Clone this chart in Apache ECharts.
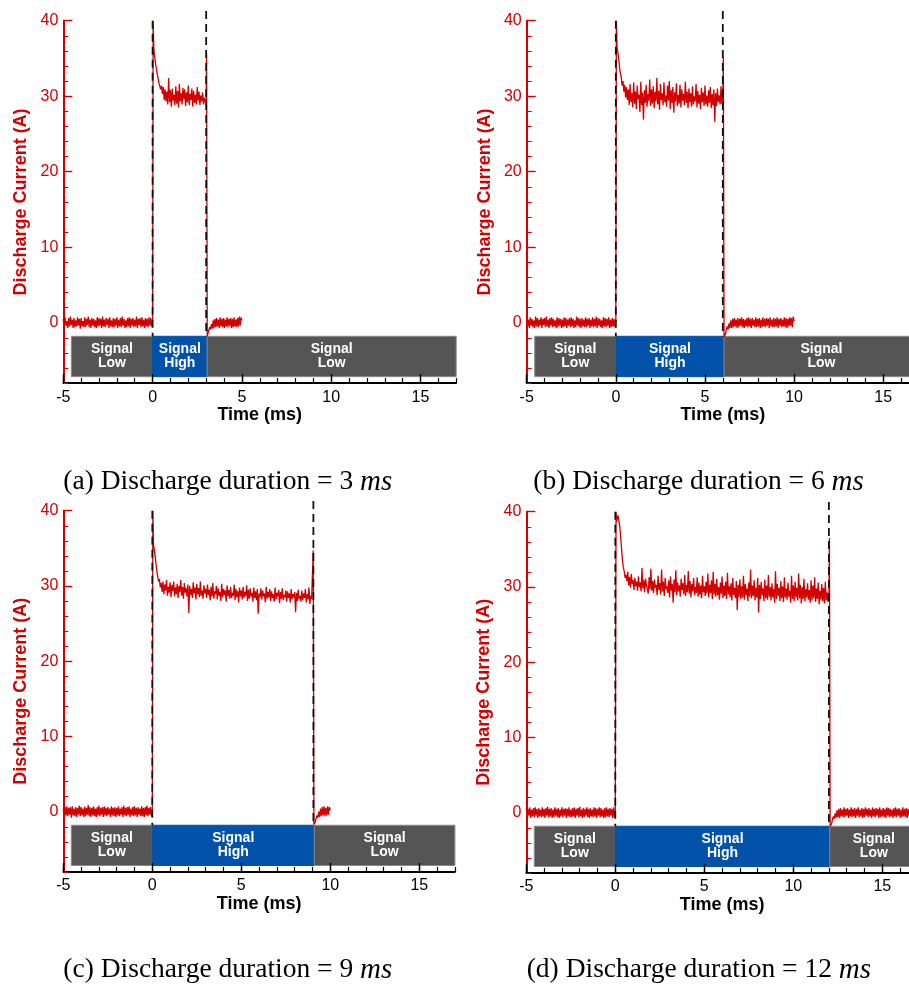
<!DOCTYPE html>
<html>
<head>
<meta charset="utf-8">
<script src="https://cdn.jsdelivr.net/npm/echarts@6/dist/echarts.min.js"></script>
<style>html,body{margin:0;padding:0;background:#fff}#c{width:909px;height:984px}</style>
</head>
<body>
<div id="c"></div>
<script>
// ---------- DATA ----------
const xTickLabels = [-5, 0, 5, 10, 15];
const yTickLabels = [0, 10, 20, 30, 40];
const captions = ['(a) Discharge duration = 3 ', '(b) Discharge duration = 6 ', '(c) Discharge duration = 9 ', '(d) Discharge duration = 12 '];

// baseline before the pulse, sampled every 0.05 ms, t = -5 .. -0.05 ms
const aPre = [0.5,-0.6,0.7,-0.4,0.2,-0.7,0.6,-0.5,0.8,-0.3,
0.4,-0.7,0.6,-0.6,0.3,-0.5,0.7,-0.4,0.5,-0.8,
0.6,-0.5,0.2,-0.6,0.7,-0.6,0.5,-0.3,0.8,-0.6,
0.4,-0.7,0.6,-0.4,0.5,-0.6,0.3,-0.7,0.7,-0.5,
0.6,-0.4,0.5,-0.7,0.8,-0.5,0.4,-0.6,0.6,-0.3,
0.5,-0.7,0.7,-0.5,0.3,-0.6,0.6,-0.6,0.5,-0.4,
0.7,-0.7,0.4,-0.5,0.6,-0.6,0.8,-0.4,0.5,-0.7,
0.3,-0.6,0.6,-0.5,0.7,-0.7,0.5,-0.4,0.6,-0.6,
0.4,-0.5,0.8,-0.7,0.5,-0.3,0.6,-0.6,0.7,-0.5,
0.4,-0.7,0.6,-0.5,0.5,-0.6,0.7,-0.4,0.6,-0.5];
const bPre = [0.6,-0.5,0.4,-0.7,0.7,-0.4,0.5,-0.6,0.3,-0.7,
0.8,-0.5,0.6,-0.6,0.4,-0.4,0.7,-0.7,0.5,-0.3,
0.6,-0.6,0.8,-0.5,0.4,-0.7,0.6,-0.4,0.7,-0.6,
0.5,-0.5,0.3,-0.7,0.7,-0.6,0.6,-0.4,0.5,-0.7,
0.4,-0.6,0.7,-0.5,0.6,-0.7,0.4,-0.4,0.6,-0.6,
0.7,-0.5,0.5,-0.7,0.3,-0.6,0.8,-0.4,0.6,-0.6,
0.5,-0.7,0.6,-0.5,0.4,-0.6,0.7,-0.6,0.5,-0.4,
0.6,-0.7,0.4,-0.5,0.7,-0.6,0.5,-0.5,0.8,-0.7,
0.6,-0.4,0.5,-0.6,0.3,-0.7,0.7,-0.5,0.6,-0.6,
0.5,-0.4,0.7,-0.7,0.4,-0.6,0.6,-0.5,0.5,-0.6];
const cPre = [0.4,-0.7,0.6,-0.5,0.7,-0.6,0.5,-0.4,0.6,-0.8,
0.7,-0.5,0.4,-0.6,0.6,-0.7,0.5,-0.4,0.8,-0.6,
0.6,-0.5,0.4,-0.7,0.7,-0.6,0.5,-0.4,0.9,-0.6,
0.6,-0.7,0.5,-0.5,0.7,-0.6,0.4,-0.7,0.6,-0.5,
0.8,-0.6,0.5,-0.4,0.6,-0.7,0.7,-0.5,0.5,-0.6,
0.6,-0.4,0.4,-0.7,0.7,-0.5,0.5,-0.6,0.6,-0.7,
0.5,-0.5,0.7,-0.6,0.4,-0.4,0.6,-0.7,0.8,-0.5,
0.5,-0.6,0.6,-0.4,0.7,-0.7,0.4,-0.5,0.6,-0.6,
0.7,-0.5,0.5,-0.7,0.6,-0.4,0.4,-0.6,0.7,-0.6,
0.5,-0.7,0.6,-0.5,0.8,-0.6,0.5,-0.4,0.6,-0.6];
const dPre = [0.6,-0.6,0.5,-0.4,0.7,-0.7,0.4,-0.5,0.6,-0.6,
0.7,-0.4,0.5,-0.7,0.6,-0.5,0.4,-0.6,0.7,-0.5,
0.5,-0.7,0.6,-0.4,0.8,-0.6,0.5,-0.5,0.6,-0.7,
0.4,-0.6,0.7,-0.4,0.5,-0.6,0.6,-0.7,0.4,-0.5,
0.7,-0.6,0.5,-0.4,0.6,-0.7,0.5,-0.5,0.7,-0.6,
0.4,-0.6,0.6,-0.5,0.7,-0.7,0.5,-0.4,0.6,-0.6,
0.8,-0.5,0.4,-0.7,0.6,-0.6,0.5,-0.4,0.7,-0.6,
0.5,-0.7,0.6,-0.5,0.4,-0.6,0.7,-0.5,0.6,-0.7,
0.5,-0.4,0.7,-0.6,0.6,-0.5,0.4,-0.7,0.6,-0.6,
0.7,-0.5,0.5,-0.6,0.6,-0.4,0.5,-0.7,0.7,-0.6];

// rising edges [t, A]
const aRise = [[0.0,0.2],[0.03,40],[0.07,36.3]];
const bRise = [[0.0,0.3],[0.03,40],[0.07,36.4]];
const cRise = [[0.0,0.2],[0.03,40],[0.07,35.4]];
const dRise = [[0.0,0.1],[0.04,40],[0.08,38.6]];

// discharge ("signal high") current, sampled every 0.05 ms from 0.1 ms
const aHigh = [35.5,34.6,33.8,33.1,32.5,31.8,31.9,30.9,31.4,30.3,
31.2,29.5,30.9,29.3,30.6,28.9,32.4,29.2,30.8,28.6,
31.0,29.4,30.2,28.8,31.3,29.0,30.7,28.5,31.6,29.3,
30.4,28.9,31.1,29.6,30.9,28.7,30.5,29.2,31.4,28.8,
30.3,29.5,31.0,28.6,30.7,29.1,30.2,28.9,31.2,29.4,
30.6,28.8,30.1,29.3,30.5,28.9,29.8,29.2,29.6];
const bHigh = [36.0,35.2,34.0,33.1,32.6,31.4,32.0,30.6,31.5,29.8,
31.2,29.5,30.9,28.8,31.6,29.2,30.4,28.5,31.8,29.0,
30.6,28.3,31.4,29.6,30.2,27.9,31.9,28.8,30.5,26.9,
30.8,29.1,31.5,28.6,30.3,29.4,32.2,28.7,30.9,29.0,
31.3,28.4,30.6,29.3,32.4,28.9,30.7,28.2,31.6,29.5,
30.4,28.8,31.8,29.2,30.1,28.6,31.4,29.4,32.0,28.3,
30.8,29.1,31.2,27.8,30.5,29.3,31.7,28.7,30.2,29.0,
31.5,28.5,30.9,29.4,30.3,28.8,31.9,29.1,30.6,28.4,
31.0,29.2,30.4,28.6,31.3,28.9,30.0,29.3,31.6,28.5,
30.7,29.0,30.2,28.3,31.1,29.2,30.5,28.7,31.4,28.9,
30.1,28.6,30.8,29.1,31.2,28.4,30.3,28.8,30.9,26.6,
30.4,28.7,31.0,29.2,30.1,28.9,31.3,29.0,29.6];
const cHigh = [35.0,34.2,33.1,32.0,31.3,30.6,30.9,29.8,30.4,29.2,
30.6,28.9,30.2,29.4,30.8,28.7,29.9,29.1,30.5,28.5,
30.1,29.3,30.6,28.6,29.8,28.9,30.3,28.4,30.0,29.2,
30.8,28.7,29.9,28.3,30.4,29.1,29.7,28.6,30.2,26.4,
30.0,28.8,29.6,28.4,30.5,29.0,29.8,28.2,30.3,28.9,
29.7,28.5,30.6,28.7,29.4,28.3,30.1,29.0,29.6,28.4,
30.2,28.8,29.5,28.1,29.9,28.6,30.4,28.3,29.3,28.9,
30.0,28.2,29.7,28.7,29.2,28.0,30.3,28.5,29.6,28.8,
29.4,27.9,30.1,28.6,29.5,28.3,29.9,28.4,29.1,28.7,
30.2,28.1,29.6,28.5,29.3,27.8,29.8,28.6,29.4,28.2,
29.9,28.4,29.2,28.7,30.1,28.0,29.5,28.3,29.7,28.6,
29.1,27.9,29.8,28.4,29.3,28.1,29.6,26.3,29.0,28.5,
29.7,28.2,29.4,28.6,29.0,27.8,29.9,28.3,29.2,28.5,
29.6,28.0,29.3,28.4,28.9,27.9,29.8,28.2,29.1,28.6,
29.5,27.7,29.2,28.3,29.7,28.1,28.8,28.5,29.4,27.9,
29.3,28.4,29.0,27.8,29.6,28.2,28.9,28.5,29.2,26.5,
29.1,28.0,29.5,28.3,28.7,27.9,29.4,28.1,29.0,28.4,
29.6,27.8,28.9,28.2,29.8,27.6,28.7,28.3,28.5];
const dHigh = [39.0,39.5,39.3,38.1,36.6,35.1,33.6,32.6,32.1,31.2,
31.6,30.8,32.0,30.2,31.3,29.9,31.7,30.4,30.9,29.6,
31.2,30.1,30.7,29.5,31.4,30.0,30.6,29.4,32.5,29.8,
30.9,29.3,31.1,30.2,30.4,29.1,31.3,29.7,32.4,29.5,
30.8,29.2,31.0,29.9,30.3,28.9,31.5,29.6,30.5,29.0,
32.3,29.4,30.7,28.8,31.2,29.7,30.1,29.2,30.9,28.6,
31.4,29.5,30.4,27.9,31.0,29.3,32.2,28.9,30.6,29.4,
30.2,28.7,31.1,29.6,30.5,29.0,31.6,28.8,30.3,29.3,
32.1,29.1,30.8,28.6,30.4,29.4,31.2,28.9,30.0,29.2,
31.3,28.7,30.6,29.0,30.2,28.5,31.5,29.3,30.1,28.8,
30.7,29.1,31.8,28.6,30.3,29.2,30.9,28.4,32.0,29.0,
30.4,28.7,31.1,28.9,30.0,28.3,30.6,29.1,31.4,28.5,
30.2,28.8,30.7,28.4,31.9,29.0,30.1,28.6,30.5,28.2,
31.2,28.9,29.9,28.5,30.8,26.9,30.3,28.7,31.0,28.4,
30.1,28.6,31.5,28.3,30.4,28.9,29.8,28.1,30.6,28.7,
32.3,28.5,30.2,28.8,30.9,28.2,29.9,28.6,31.2,26.6,
30.3,28.4,30.7,28.9,29.8,28.1,31.0,28.5,30.2,28.3,
31.6,28.7,30.0,28.2,30.5,28.6,29.7,27.9,32.1,28.4,
30.4,28.8,29.9,28.1,30.8,28.5,30.1,28.0,31.3,28.6,
29.8,28.3,30.6,28.7,29.5,27.9,31.5,28.4,30.2,28.1,
30.7,28.6,29.9,28.2,31.8,28.5,30.3,27.8,30.0,28.4,
31.1,28.1,29.7,28.6,30.5,28.3,29.6,27.9,30.9,28.2,
30.2,28.5,31.3,28.0,29.8,28.4,30.6,27.7,29.5,28.3,
30.4,28.1,29.9,27.8,30.7,28.2,29.3,28.0,28.6];

// falling edges [t, A]
const aFall = [[3.02,35.7],[3.06,-1.8]];
const bFall = [[6.03,35.2],[6.07,-1.9]];
const cFall = [[9.04,34.7],[9.08,-1.7]];
const dFall = [[12.03,36.5],[12.07,-1.8]];

// baseline after the pulse, sampled every 0.05 ms
const aPost = [-1.6,-1.0,-0.6,-0.9,-0.2,-0.8,0.3,-0.7,0.5,-0.6,
0.6,-0.5,0.4,-0.7,0.7,-0.5,0.5,-0.6,0.6,-0.7,
0.4,-0.5,0.7,-0.6,0.5,-0.4,0.6,-0.7,0.5,-0.6,
0.7,-0.5,0.4,-0.6,0.6,-0.5,0.8,-0.4,0.7,0.3];
const bPost = [-1.5,-0.9,-0.5,-0.9,-0.1,-0.7,0.3,-0.7,0.5,-0.6,
0.6,-0.5,0.4,-0.7,0.6,-0.6,0.5,-0.4,0.7,-0.6,
0.5,-0.7,0.4,-0.5,0.6,-0.6,0.7,-0.5,0.5,-0.7,
0.6,-0.4,0.4,-0.6,0.7,-0.6,0.5,-0.5,0.6,-0.7,
0.4,-0.6,0.7,-0.5,0.5,-0.6,0.6,-0.4,0.5,-0.7,
0.7,-0.5,0.4,-0.6,0.6,-0.6,0.5,-0.5,0.7,-0.7,
0.5,-0.4,0.6,-0.6,0.4,-0.5,0.7,-0.6,0.6,-0.7,
0.5,-0.5,0.7,-0.4,0.6,-0.6,0.8,0.2];
const cPost = [-1.4,-0.9,-0.5,-0.8,0.0,-0.7,0.4,-0.6,0.6,-0.5,0.7,-0.6,0.5,-0.5,0.7,-0.4,0.6,0.2];
const dPost = [-1.5,-0.9,-0.5,-0.8,-0.1,-0.7,0.3,-0.6,0.5,-0.7,
0.6,-0.5,0.4,-0.6,0.7,-0.6,0.5,-0.4,0.6,-0.7,
0.4,-0.5,0.7,-0.6,0.5,-0.5,0.6,-0.7,0.5,-0.4,
0.7,-0.6,0.4,-0.5,0.6,-0.7,0.5,-0.6,0.7,-0.4,
0.5,-0.6,0.6,-0.5,0.4,-0.7,0.7,-0.5,0.5,-0.6,
0.6,-0.4,0.5,-0.7,0.7,-0.6,0.4,-0.5,0.6,-0.6,
0.5,-0.7,0.7,-0.4,0.6,-0.6,0.5,-0.5,0.4,-0.7,
0.6,-0.5,0.7,-0.6,0.5,-0.4,0.6,-0.7,0.4,-0.6,
0.7,-0.5,0.5,-0.6,0.6,-0.7,0.5,-0.4,0.7,-0.6,
0.4,-0.5,0.6,-0.6,0.5,-0.7,0.6,-0.5];

// sample time spans [start, end] of each segment (ms)
const preSpan = [-5, -0.05];
const aHighSpan = [0.1, 3.0],  aPostSpan = [3.1, 5.0];
const bHighSpan = [0.1, 6.0],  bPostSpan = [6.15, 10.0];
const cHighSpan = [0.1, 9.0],  cPostSpan = [9.15, 10.0];
const dHighSpan = [0.1, 12.0], dPostSpan = [12.15, 17.0];

// trigger marks (dashed): [t, top A]
const aMarks = [[0, 40], [3.0, 41.3]];
const bMarks = [[0, 40], [6.0, 41.3]];
const cMarks = [[0, 40], [9.05, 41.3]];
const dMarks = [[0, 40], [12.0, 41.3]];

// signal state bars: [t start, t end, label]
const aBars = [[-4.55, 0, 'Low'], [0, 3.05, 'High'], [3.05, 17, 'Low']];
const bBars = [[-4.55, 0, 'Low'], [0, 6.07, 'High'], [6.07, 17, 'Low']];
const cBars = [[-4.55, 0, 'Low'], [0, 9.1, 'High'], [9.1, 17, 'Low']];
const dBars = [[-4.55, 0, 'Low'], [0, 12.05, 'High'], [12.05, 17, 'Low']];
const barRange = [-7.15, -1.8];

// ---------- BUILD ----------
function seg(vals, span) {
  const n = vals.length;
  return vals.map((v, i) => [span[0] + (span[1] - span[0]) * i / (n - 1), v]);
}
const traces = [
  [...seg(aPre, preSpan), ...aRise, ...seg(aHigh, aHighSpan), ...aFall, ...seg(aPost, aPostSpan)],
  [...seg(bPre, preSpan), ...bRise, ...seg(bHigh, bHighSpan), ...bFall, ...seg(bPost, bPostSpan)],
  [...seg(cPre, preSpan), ...cRise, ...seg(cHigh, cHighSpan), ...cFall, ...seg(cPost, cPostSpan)],
  [...seg(dPre, preSpan), ...dRise, ...seg(dHigh, dHighSpan), ...dFall, ...seg(dPost, dPostSpan)]
];
const marks = [aMarks, bMarks, cMarks, dMarks];
const bars = [aBars, bBars, cBars, dBars];

const grids = [
  {left: 63.3, top: 20.7, width: 392.9, height: 362.4, outerBoundsMode: 'none', containLabel: false},
  {left: 526.7, top: 20.7, width: 392.2, height: 362.4, outerBoundsMode: 'none', containLabel: false},
  {left: 63.3, top: 510.7, width: 391.6, height: 361.2, outerBoundsMode: 'none', containLabel: false},
  {left: 526.3, top: 511.7, width: 391.6, height: 361.2, outerBoundsMode: 'none', containLabel: false}
];
const captionPos = [[63.3, 484.5], [533.3, 484.5], [63.3, 972.4], [526.7, 972.4]];

const RED = '#d40000';
const SANS = 'Liberation Sans, Arial, sans-serif';
const xAxis = [], yAxis = [], series = [], graphic = [];

grids.forEach((g, p) => {
  // minor x axis
  xAxis.push({
    gridIndex: p, type: 'value', min: -5, max: 17, interval: 1, z: 5, position: 'bottom', offset: 0,
    axisLine: {onZero: false, lineStyle: {color: '#000', width: 1.8}},
    axisTick: {inside: true, length: 5, lineStyle: {color: '#000', width: 1.2}},
    axisLabel: {show: false}, splitLine: {show: false}
  });
  // major x axis
  xAxis.push({
    gridIndex: p, type: 'value', min: -5, max: 17, z: 5, position: 'bottom', offset: 0,
    axisLine: {show: false, onZero: false},
    axisTick: {inside: true, length: 9, customValues: xTickLabels, lineStyle: {color: '#000', width: 1.4}},
    axisLabel: {customValues: xTickLabels, color: '#000', fontSize: 16, fontFamily: SANS, margin: 6},
    splitLine: {show: false},
    name: 'Time (ms)', nameLocation: 'middle', nameGap: 21,
    nameTextStyle: {color: '#000', fontSize: 18, fontWeight: 'bold', fontFamily: SANS}
  });
  // minor y axis
  yAxis.push({
    gridIndex: p, type: 'value', min: -8, max: 40, interval: 2, z: 5, position: 'left', offset: 0,
    axisLine: {show: true, onZero: false, lineStyle: {color: RED, width: 2}},
    axisTick: {inside: true, length: 5, lineStyle: {color: RED, width: 1}},
    axisLabel: {show: false}, splitLine: {show: false}
  });
  // major y axis
  yAxis.push({
    gridIndex: p, type: 'value', min: -8, max: 40, z: 5, position: 'left', offset: 0,
    axisLine: {show: false, onZero: false},
    axisTick: {show: true, inside: true, length: 9, customValues: yTickLabels, lineStyle: {color: RED, width: 1.4}},
    axisLabel: {customValues: yTickLabels, color: RED, fontSize: 16, fontFamily: SANS, margin: 5},
    splitLine: {show: false},
    name: 'Discharge Current (A)', nameLocation: 'middle', nameGap: 33,
    nameTextStyle: {color: RED, fontSize: 18, fontWeight: 'bold', fontFamily: SANS}
  });

  const xi = 2 * p, yi = 2 * p;
  // signal bars (markArea on an empty helper series)
  series.push({
    type: 'line', xAxisIndex: xi, yAxisIndex: yi, data: [], z: 1, silent: true,
    markArea: {
      silent: true,
      data: bars[p].map(b => [
        {xAxis: b[0], yAxis: barRange[0], name: 'Signal\n' + b[2],
         itemStyle: {color: b[2] === 'High' ? '#0152a8' : '#555555', borderColor: b[2] === 'High' ? '#0152a8' : '#8a8a8a', borderWidth: 1},
         label: {show: true, position: 'inside', formatter: '{b}', color: '#fff', fontSize: 14, fontWeight: 'bold', fontFamily: SANS, lineHeight: 14}},
        {xAxis: b[1], yAxis: barRange[1]}
      ])
    }
  });
  // current trace
  series.push({
    type: 'line', xAxisIndex: xi, yAxisIndex: yi, data: traces[p], z: 3,
    showSymbol: false, sampling: null, clip: true,
    lineStyle: {color: RED, width: 1.3}, silent: true
  });
  // dashed trigger lines
  marks[p].forEach(m => {
    series.push({
      type: 'line', xAxisIndex: xi, yAxisIndex: yi, z: 4, clip: false, showSymbol: false, silent: true,
      data: [[m[0], m[1]], [m[0], barRange[1]]],
      lineStyle: {color: '#111', width: 1.8, type: [8, 5]}
    });
  });

  graphic.push({
    type: 'text', left: captionPos[p][0], top: captionPos[p][1] - 17,
    style: {
      text: captions[p] + '{i|ms}',
      font: '27.5px "Liberation Serif", "Times New Roman", serif',
      fill: '#000',
      rich: {i: {fontStyle: 'italic', fontSize: 29, fontFamily: 'Liberation Serif', fill: '#000'}}
    }
  });
});

const chart = echarts.init(document.getElementById('c'), null, {renderer: 'canvas'});
chart.setOption({animation: false, grid: grids, xAxis, yAxis, series, graphic});
</script>
</body>
</html>
